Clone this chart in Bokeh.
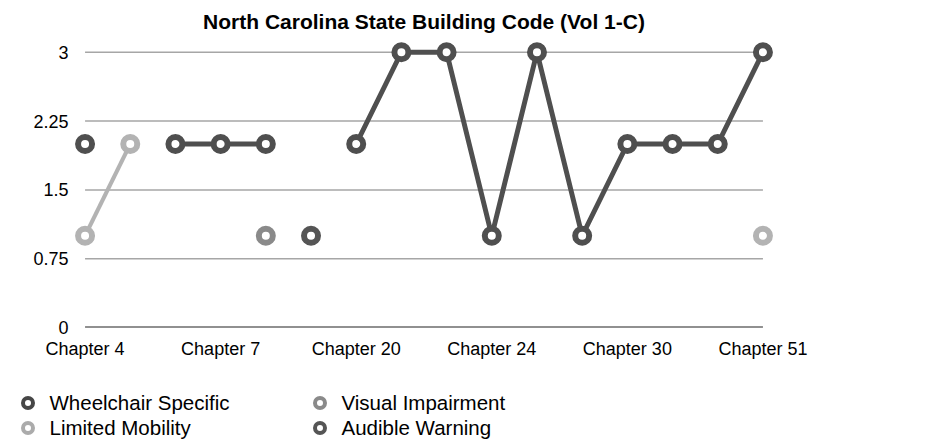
import numpy as np
from bokeh.plotting import figure
from bokeh.layouts import column
from bokeh.models import Range1d, Legend, LegendItem, FixedTicker
from bokeh.embed import file_html
from bokeh.resources import INLINE

nan = np.nan

# ---- data ----
title = "North Carolina State Building Code (Vol 1-C)"
x_tick_labels = ["Chapter 4", "Chapter 7", "Chapter 20", "Chapter 24", "Chapter 30", "Chapter 51"]
label_step = 3
n_points = 16
y_ticks = [0, 0.75, 1.5, 2.25, 3]
y_tick_labels = ["0", "0.75", "1.5", "2.25", "3"]

wheelchair = [2, nan, 2, 2, 2, nan, 2, 3, 3, 1, 3, 1, 2, 2, 2, 3]
limited = [1, 2, nan, nan, nan, nan, nan, nan, nan, nan, nan, nan, nan, nan, nan, 1]
visual = [nan, nan, nan, nan, 1, nan, nan, nan, nan, nan, nan, nan, nan, nan, nan, nan]
audible = [nan, nan, nan, nan, nan, 1, nan, nan, nan, nan, nan, nan, nan, nan, nan, nan]

series = [
    ("Wheelchair Specific", wheelchair, "#4f4f4f", 5, "#464646"),
    ("Visual Impairment", visual, "#8a8a8a", 5, "#8a8a8a"),
    ("Limited Mobility", limited, "#b3b3b3", 4, "#ababab"),
    ("Audible Warning", audible, "#555555", 5, "#555555"),
]

FONT = "Liberation Sans"
x = list(range(n_points))

p = figure(width=917, height=390, output_backend="svg", toolbar_location=None,
           x_range=Range1d(-0.3, n_points - 1 + 0.3), y_range=Range1d(0, 3.15),
           min_border_left=71, min_border_right=141, min_border_top=38, min_border_bottom=63)
p.outline_line_color = None
p.xgrid.visible = False
p.ygrid.visible = False

p.title.text = title
p.title.text_font = FONT
p.title.text_font_size = "21px"
p.title.text_font_style = "bold"
p.title.align = "center"
p.title.text_color = "#000000"
p.title.standoff = 12

# gridlines
grid_y = [t for t in y_ticks if t != 0]
p.segment(x0=[0] * len(grid_y), x1=[n_points - 1] * len(grid_y), y0=grid_y, y1=grid_y,
          line_color="#a6a6a6", line_width=1.5)
p.segment(x0=[0], x1=[n_points - 1], y0=[0], y1=[0], line_color="#222222", line_width=2)

# axes
p.yaxis.ticker = FixedTicker(ticks=y_ticks)
p.yaxis.major_label_overrides = {t: l for t, l in zip(y_ticks, y_tick_labels)}
x_tick_pos = [i * label_step for i in range(len(x_tick_labels))]
p.xaxis.ticker = FixedTicker(ticks=x_tick_pos)
p.xaxis.major_label_overrides = {t: l for t, l in zip(x_tick_pos, x_tick_labels)}
for ax in (p.xaxis, p.yaxis):
    ax.axis_line_color = None
    ax.major_tick_line_color = None
    ax.minor_tick_line_color = None
    ax.major_tick_out = 0
    ax.major_tick_in = 0
    ax.minor_tick_out = 0
    ax.minor_tick_in = 0
    ax.major_label_text_font = FONT
    ax.major_label_text_font_size = "18px"
    ax.major_label_text_color = "#000000"
p.yaxis.major_label_standoff = 3
p.xaxis.major_label_standoff = 11

for name, vals, color, lw, lcolor in series:
    p.line(x, vals, line_color=color, line_width=lw)
for name, vals, color, lw, lcolor in series:
    p.scatter(x, vals, size=14, fill_color="white", line_color=color, line_width=6)

# ---- legend figure ----
lf = figure(width=917, height=50, output_backend="svg", toolbar_location=None,
            x_range=Range1d(0, 1), y_range=Range1d(0, 1),
            min_border_left=0, min_border_right=0, min_border_top=0, min_border_bottom=0)
if "frame_align" in lf.properties():
    lf.frame_align = False
    p.frame_align = False
lf.axis.visible = False
lf.grid.visible = False
lf.outline_line_color = None
items = []
for name, vals, color, lw, lcolor in series:
    r = lf.scatter([nan], [nan], size=10, fill_color="white", line_color=lcolor, line_width=4)
    items.append(LegendItem(label=name, renderers=[r]))

legend = Legend(items=items, location=(14.5, 0), orientation="horizontal", ncols=2,
                label_text_font=FONT, label_text_font_size="20.5px", label_text_color="#000000",
                glyph_width=25, glyph_height=25, label_height=25, label_width=257,
                label_standoff=10, spacing=0, padding=0, margin=0,
                border_line_color=None, background_fill_alpha=0)
lf.add_layout(legend, "center")

layout = column(p, lf, spacing=0)
open("out.html", "w").write(file_html(layout, INLINE))
